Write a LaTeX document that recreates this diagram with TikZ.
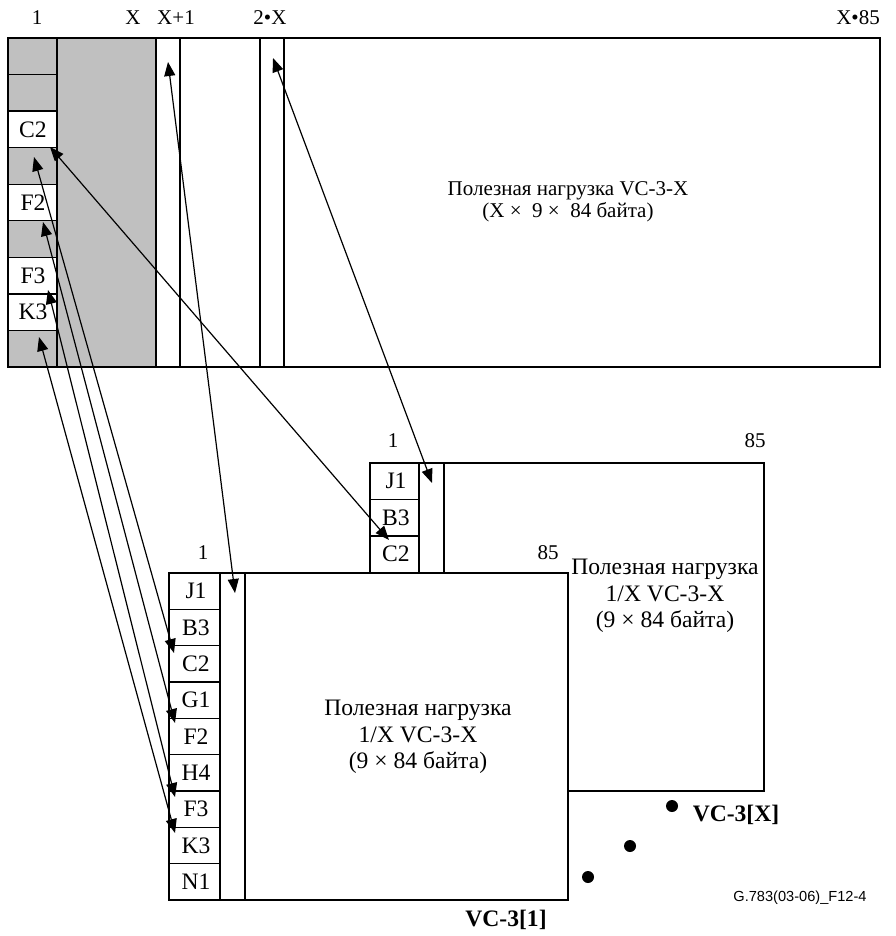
\documentclass[tikz,border=0pt]{standalone}
\usepackage{fontspec}
\setmainfont{Liberation Serif}
\newfontfamily\sansf{Liberation Sans}
\usetikzlibrary{arrows.meta}
\definecolor{hdrgrey}{RGB}{192,192,192}
\begin{document}
\begin{tikzpicture}[x=0.5pt,y=-0.5pt,
  frame/.style={draw, line width=0.8pt},
  thin/.style={draw, line width=0.7pt},
  lbl/.style={font=\fontsize{10.5}{12}\selectfont, inner sep=0},
  celltxt/.style={font=\fontsize{11.8}{13}\selectfont, inner sep=0},
  txt/.style={font=\fontsize{10.5}{11}\selectfont, inner sep=0, align=center},
  boxtxt/.style={font=\fontsize{11.8}{13.3}\selectfont, inner sep=0, align=center},
  bold/.style={font=\fontsize{11.8}{13}\selectfont\bfseries, inner sep=0},
  link/.style={line width=0.6pt, {Triangle[length=7pt,width=5.5pt]}-{Triangle[length=7pt,width=5.5pt]}},
  dotmark/.style={circle, fill=black, inner sep=0, minimum size=6pt}
]
\useasboundingbox (0,0) rectangle (895,936);

% ---------------- top box ----------------
\fill[hdrgrey] (8,38) rectangle (156,367);
\foreach \i in {2,4,6,7}{
  \fill[white] (8,{38+36.56*\i}) rectangle (57,{38+36.56*(\i+1)});
}
\foreach \i in {1,...,8}{
  \draw[thin] (8,{38+36.56*\i}) -- (57,{38+36.56*\i});
}
\draw[thin] (57,38) -- (57,367);
\draw[line width=1pt] (156,38) -- (156,367);
\draw[thin] (180,38) -- (180,367);
\draw[thin] (260,38) -- (260,367);
\draw[thin] (284,38) -- (284,367);
\draw[frame] (8,38) rectangle (880,367);

\node[celltxt] (tC2) at (33,{38+36.56*2.5}) {C2};
\node[celltxt] (tF2) at (33,{38+36.56*4.5}) {F2};
\node[celltxt] (tF3) at (33,{38+36.56*6.5}) {F3};
\node[celltxt] (tK3) at (33,{38+36.56*7.5}) {K3};

\node[lbl] (h1) at (37,18) {1};
\node[lbl] (hX) at (133,18) {X};
\node[lbl] (hX1) at (176,18) {X+1};
\node[lbl] (h2X) at (270,18) {2•X};
\node[lbl] (hX85) at (858,18) {X•85};

\node[txt] (tpay) at (568,202) {Полезная нагрузка VC-3-X\\(X × \ 9 × \ 84 байта)};

% ---------------- back box VC-3[X] ----------------
\fill[white] (370,463) rectangle (764,791);
\draw[frame] (370,463) rectangle (764,791);
\draw[thin] (419,463) -- (419,791);
\draw[thin] (444,463) -- (444,791);
\foreach \i in {1,2}{
  \draw[thin] (370,{463+36.44*\i}) -- (419,{463+36.44*\i});
}
\node[celltxt] (bJ1) at (396,{463+36.44*0.5}) {J1};
\node[celltxt] (bB3) at (396,{463+36.44*1.5}) {B3};
\node[celltxt] (bC2) at (396,{463+36.44*2.5}) {C2};
\node[lbl] (b1) at (393,441) {1};
\node[lbl] (b85) at (755,441) {85};
\node[boxtxt] (bpay) at (665,596) {Полезная нагрузка\\1/X VC-3-X\\(9 × 84 байта)};

% ---------------- front box VC-3[1] ----------------
\fill[white] (169,573) rectangle (568,900);
\draw[frame] (169,573) rectangle (568,900);
\draw[thin] (220,573) -- (220,900);
\draw[thin] (245,573) -- (245,900);
\foreach \i in {1,...,8}{
  \draw[thin] (169,{573+36.33*\i}) -- (220,{573+36.33*\i});
}
\foreach \n/\t [count=\k from 0] in {fJ1/J1,fB3/B3,fC2/C2,fG1/G1,fF2/F2,fH4/H4,fF3/F3,fK3/K3,fN1/N1}{
  \node[celltxt] (\n) at (196,{573+36.33*(\k+0.5)}) {\t};
}
\node[lbl] (f1) at (203,553) {1};
\node[lbl] (f85) at (548,553) {85};
\node[boxtxt] (fpay) at (418,737) {Полезная нагрузка\\1/X VC-3-X\\(9 × 84 байта)};

% ---------------- labels and dots ----------------
\node[dotmark] (d1) at (672,806) {};
\node[dotmark] (d2) at (630,846) {};
\node[dotmark] (d3) at (588,877) {};
\node[bold] (vcx) at (736,815) {VC-3[X]};
\node[bold] (vc1) at (506,920) {VC-3[1]};
\node[inner sep=0, font=\sansf\fontsize{7.3}{9}\selectfont] (ref) at (800,898) {G.783(03-06)\_F12-4};

% ---------------- arrow end points ----------------
\coordinate (a1s) at (168,62);   \coordinate (a1e) at (235,593);
\coordinate (a2s) at (273,58);   \coordinate (a2e) at (432,483);
\coordinate (a3s) at (50,147);   \coordinate (a3e) at (389,540);
\coordinate (a4s) at (34,157);   \coordinate (a4e) at (174,653);
\coordinate (a5s) at (43,222);   \coordinate (a5e) at (175,723);
\coordinate (a6s) at (48,290);   \coordinate (a6e) at (175,797);
\coordinate (a7s) at (39,337);   \coordinate (a7e) at (175,833);

\draw[link] (a1s) -- (a1e);
\draw[link] (a2s) -- (a2e);
\draw[link] (a3s) -- (a3e);
\draw[link] (a4s) -- (a4e);
\draw[link] (a5s) -- (a5e);
\draw[link] (a6s) -- (a6e);
\draw[link] (a7s) -- (a7e);
\end{tikzpicture}
\end{document}
